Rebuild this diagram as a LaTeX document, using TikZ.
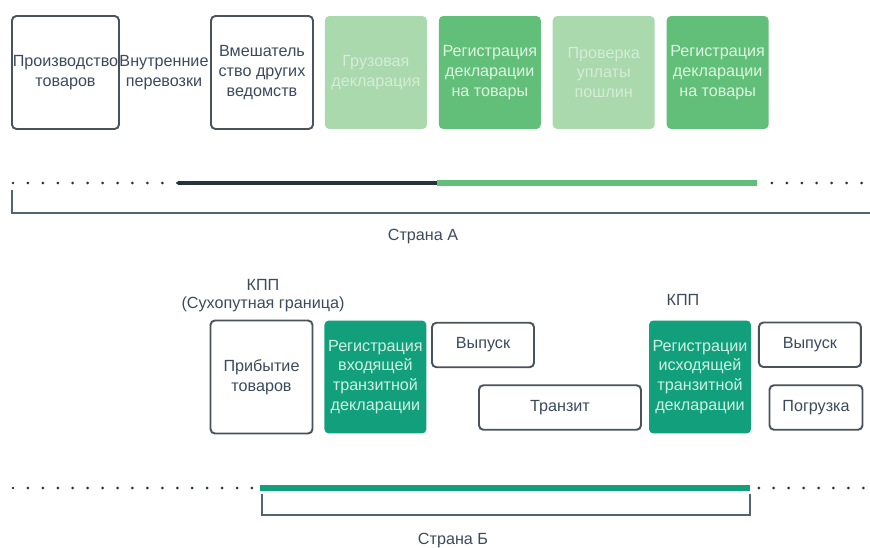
\documentclass[tikz,border=0pt]{standalone}
\usepackage{fontspec}
\setmainfont{Liberation Sans}
\usepackage{tikz}
\usetikzlibrary{positioning}

\definecolor{boxline}{HTML}{4A525C}
\definecolor{txt}{HTML}{3B4A5C}
\definecolor{grn}{HTML}{62BF7A}
\definecolor{grntxt}{HTML}{DDF6DF}
\definecolor{palegrn}{HTML}{AAD9AE}
\definecolor{paletxt}{HTML}{D4EDD5}
\definecolor{tealbox}{HTML}{12A07C}
\definecolor{tealtxt}{HTML}{CFF1E4}
\definecolor{darkbar}{HTML}{28323D}
\definecolor{bracket}{HTML}{50656F}

\tikzset{
	stage/.style={draw=boxline, line width=1.1pt, rounded corners=2.5pt, minimum width=2.04cm, minimum height=2.26cm, inner sep=0pt, align=center, text=txt, font=\fontsize{9.2}{11.3}\selectfont},
	greenstage/.style={stage, draw=none, fill=grn, text=grntxt},
	palestage/.style={stage, draw=none, fill=palegrn, text=paletxt},
	tealstage/.style={stage, draw=none, fill=tealbox, text=tealtxt},
	flatstage/.style={stage, minimum height=0.89cm},
	caption/.style={align=center, text=txt, inner sep=1pt, font=\fontsize{9.2}{11.3}\selectfont},
	dots/.style={draw=darkbar, line width=1.7pt, line cap=round, dash pattern=on 0pt off 8.5pt},
	brace/.style={draw=bracket, line width=0.9pt}
}

\begin{document}
\begin{tikzpicture}[x=0.02cm, y=-0.02cm]
		\useasboundingbox (0,0) rectangle (870,548);

		\node[stage, minimum width=2.14cm] (prod) at (65.5,72.5) {Производство\\товаров};
		\node[caption] (haul) at (164,72.5) {Внутренние\\перевозки};
		\node[stage] (agency) at (262,72.5) {Вмешатель\\ство других\\ведомств};
		\node[palestage, right=0.2cm of agency] (cargo) {Грузовая\\декларация};
		\node[greenstage, right=0.2cm of cargo] (regA) {Регистрация\\декларации\\на товары};
		\node[palestage, right=0.2cm of regA] (duty) {Проверка\\уплаты\\пошлин};
		\node[greenstage, right=0.2cm of duty] (regB) {Регистрация\\декларации\\на товары};

		\coordinate (a0) at (13,183);
		\coordinate (a1) at (178,183);
		\coordinate (a2) at (437,183);
		\coordinate (a3) at (757,183);
		\coordinate (a4) at (866,183);
		\draw[dots] (a0) -- (a1);
		\draw[darkbar, line width=1.8pt] (a1) -- (a2);
		\draw[grn, line width=3.4pt] (a2) -- (a3);
		\draw[dots] ([xshift=8.5pt]a3) -- (a4);
		\coordinate (ba0) at (12,190);
		\coordinate (ba1) at (870,213);
		\draw[brace] (ba0) |- (ba1);
		\node[caption] (countryA) at (423,237) {Страна А};

		\node[caption] (kppIn) at (263,285) {КПП};
		\node[caption] (land) at (263,304) {(Сухопутная граница)};
		\node[stage] (arrival) at (261.5,377) {Прибытие\\товаров};
		\node[tealstage, right=0.2cm of arrival] (transIn) {Регистрация\\входящей\\транзитной\\декларации};
		\node[flatstage] (releaseA) at (483,345) {Выпуск};
		\node[flatstage, minimum width=3.24cm] (transit) at (560,407.5) {Транзит};
		\node[caption] (kppOut) at (683,300) {КПП};
		\node[tealstage] (transOut) at (700,377) {Регистрации\\исходящей\\транзитной\\декларации};
		\node[flatstage, right=0.12cm of transOut.north east, anchor=north west, yshift=-0.04cm] (releaseB) {Выпуск};
		\node[flatstage, minimum width=1.86cm] (loading) at (816,407.5) {Погрузка};

		\coordinate (b0) at (13,488);
		\coordinate (b1) at (260,488);
		\coordinate (b2) at (750,488);
		\coordinate (b3) at (866,488);
		\draw[dots] (b0) -- (b1);
		\draw[tealbox, line width=3.4pt] (b1) -- (b2);
		\draw[dots] ([xshift=5pt]b2) -- (b3);
		\coordinate (bb0) at (262,494);
		\coordinate (bb1) at (750,494);
		\draw[brace] (bb0) -- ++(0,21) -| (bb1);
		\node[caption] (countryB) at (453,541) {Страна Б};
	\end{tikzpicture}
\end{document}
